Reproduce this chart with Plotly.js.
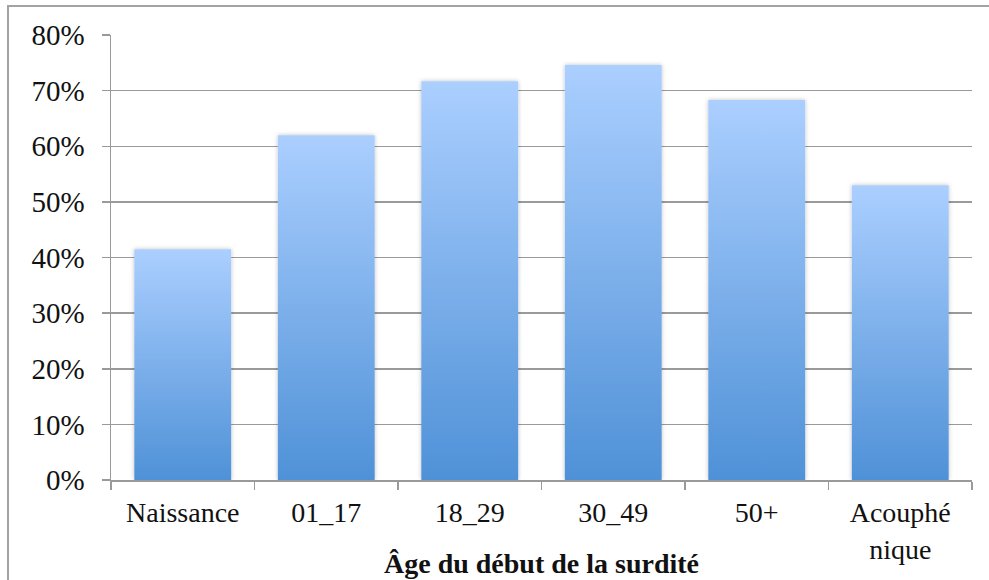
<!DOCTYPE html>
<html>
<head>
<meta charset="utf-8">
<script src="https://cdn.plot.ly/plotly-3.0.1.min.js"></script>
<style>
  html, body { margin: 0; padding: 0; background: #fff; }
  #wrap { position: relative; width: 989px; height: 580px; overflow: hidden; }
  #frame { position: absolute; left: 7px; top: 5px; width: 1000px; height: 600px;
           border-left: 2px solid #a3a3a3; border-top: 2px solid #a3a3a3; pointer-events: none; }
  #chart { position: absolute; left: 0; top: 0; width: 989px; height: 580px; }
</style>
</head>
<body>
<div id="wrap">
  <div id="chart"></div>
  <div id="frame"></div>
</div>
<script>
const categories = ["Naissance", "01_17", "18_29", "30_49", "50+", "Acouphé<br>nique"];
const values = [0.415, 0.62, 0.717, 0.746, 0.683, 0.53];
const yTickVals = [0, 0.1, 0.2, 0.3, 0.4, 0.5, 0.6, 0.7, 0.8];
const yTickText = ["0%", "10%", "20%", "30%", "40%", "50%", "60%", "70%", "80%"];
const xTitle = "Âge du début de la surdité";

const fontFam = "Liberation Serif";

const trace = {
  type: "bar",
  x: categories,
  y: values,
  marker: { color: "#7fb0ea", line: { width: 0 } },
  hoverinfo: "none"
};

const layout = {
  width: 989,
  height: 580,
  margin: { l: 111, r: 17, t: 35, b: 100 },
  paper_bgcolor: "rgba(0,0,0,0)",
  plot_bgcolor: "#ffffff",
  showlegend: false,
  bargap: 0.325,
  font: { family: fontFam, color: "#111", size: 28 },
  xaxis: {
    type: "category",
    showgrid: false,
    showline: true,
    linecolor: "#9a9a9a",
    linewidth: 1.5,
    ticks: "outside",
    tickcolor: "#9a9a9a",
    ticklen: 8,
    tickwidth: 1.5,
    tickson: "boundaries",
    ticklabelstandoff: 7,
    tickfont: { family: fontFam, size: 28, color: "#111" },
    fixedrange: true
  },
  yaxis: {
    range: [0, 0.8],
    tickvals: yTickVals,
    ticktext: yTickText,
    showgrid: true,
    gridcolor: "#9a9a9a",
    gridwidth: 1.5,
    showline: true,
    linecolor: "#9a9a9a",
    linewidth: 1.5,
    ticks: "outside",
    tickcolor: "#9a9a9a",
    ticklen: 8,
    tickwidth: 1.5,
    ticklabelstandoff: 11,
    tickfont: { family: fontFam, size: 29, color: "#111" },
    zeroline: false,
    fixedrange: true
  },
  annotations: [{
    text: "<b>" + xTitle + "</b>",
    xref: "paper", yref: "paper",
    x: 0.5, y: -0.187,
    xanchor: "center", yanchor: "middle",
    showarrow: false,
    font: { family: fontFam, size: 28, color: "#111" }
  }]
};

function applyGradient(gd) {
  const svg = gd.querySelector("svg.main-svg");
  if (!svg) return;
  const ns = "http://www.w3.org/2000/svg";
  let defs = svg.querySelector("defs");
  if (!defs) { defs = document.createElementNS(ns, "defs"); svg.insertBefore(defs, svg.firstChild); }
  if (!svg.querySelector("#barGrad")) {
    const lg = document.createElementNS(ns, "linearGradient");
    lg.setAttribute("id", "barGrad");
    lg.setAttribute("x1", "0"); lg.setAttribute("y1", "0");
    lg.setAttribute("x2", "0"); lg.setAttribute("y2", "1");
    [["0", "#abcfff"], ["1", "#4f91d7"]].forEach(function (s) {
      const st = document.createElementNS(ns, "stop");
      st.setAttribute("offset", s[0]);
      st.setAttribute("stop-color", s[1]);
      lg.appendChild(st);
    });
    defs.appendChild(lg);
    const f = document.createElementNS(ns, "filter");
    f.setAttribute("id", "barShadow");
    f.setAttribute("x", "-10%"); f.setAttribute("y", "-10%");
    f.setAttribute("width", "120%"); f.setAttribute("height", "120%");
    const ds = document.createElementNS(ns, "feDropShadow");
    ds.setAttribute("dx", "0"); ds.setAttribute("dy", "0");
    ds.setAttribute("stdDeviation", "2");
    ds.setAttribute("flood-color", "#000");
    ds.setAttribute("flood-opacity", "0.25");
    f.appendChild(ds);
    defs.appendChild(f);
  }
  gd.querySelectorAll(".bars .point path").forEach(function (p) {
    p.style.fill = "url(#barGrad)";
    p.setAttribute("filter", "url(#barShadow)");
  });
}

const gd = document.getElementById("chart");
Plotly.newPlot(gd, [trace], layout, { displayModeBar: false, staticPlot: true }).then(function () {
  applyGradient(gd);
  gd.on && gd.on("plotly_afterplot", function () { applyGradient(gd); });
});
</script>
</body>
</html>
